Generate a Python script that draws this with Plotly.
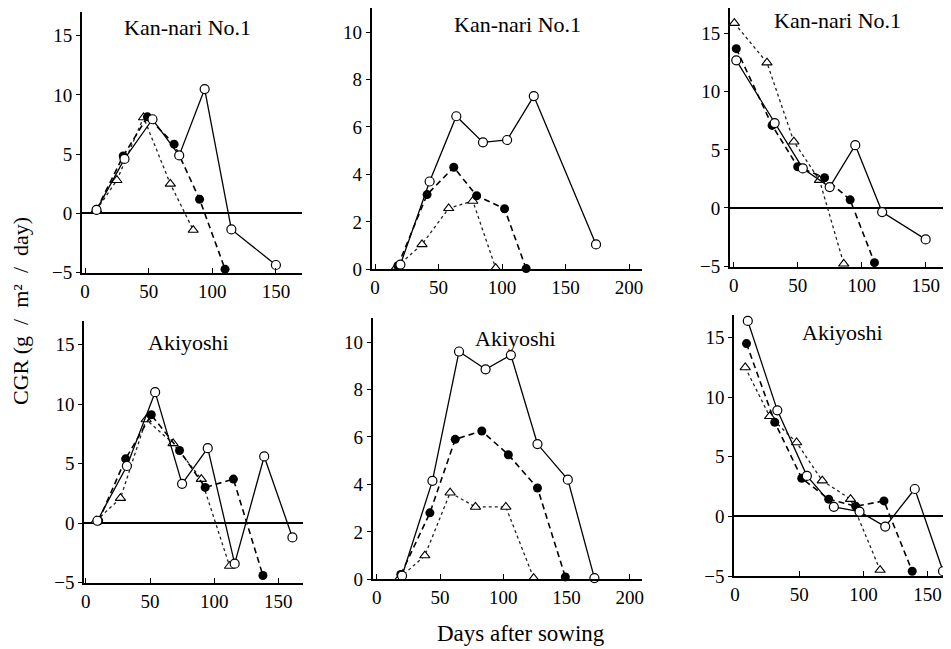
import plotly.graph_objects as go

# The page body adds an 8 px margin, so the figure is sized and positioned
# to land on the same pixels as the reference (951 x 649 window).
OFF = 8
W, H = 951 - OFF, 649 - OFF

# ---------------- data ----------------
# Panel 1: Kan-nari No.1 (left column, CGR g/m2/day)
p1_open_x = [9, 31, 53, 74, 94, 115, 150]
p1_open_y = [0.3, 4.6, 7.95, 4.9, 10.5, -1.35, -4.35]
p1_fill_x = [9, 30, 49, 70, 90, 110]
p1_fill_y = [0.3, 4.85, 8.15, 5.85, 1.2, -4.7]
p1_tri_x = [9, 25, 46, 67, 85]
p1_tri_y = [0.3, 2.8, 8.1, 2.5, -1.4]

# Panel 2: Kan-nari No.1 (middle column)
p2_open_x = [20, 43, 64, 85, 104, 125, 174]
p2_open_y = [0.2, 3.7, 6.45, 5.35, 5.45, 7.3, 1.05]
p2_fill_x = [18, 41, 62, 80, 102, 119]
p2_fill_y = [0.15, 3.15, 4.3, 3.1, 2.55, 0.03]
p2_tri_x = [17, 37, 58, 77, 95]
p2_tri_y = [0.1, 1.05, 2.57, 2.88, 0.05]

# Panel 3: Kan-nari No.1 (right column)
p3_open_x = [2, 32, 54, 75, 95, 116, 150]
p3_open_y = [12.7, 7.3, 3.4, 1.8, 5.4, -0.35, -2.7]
p3_fill_x = [2, 30, 50, 71, 91, 110]
p3_fill_y = [13.7, 7.1, 3.55, 2.6, 0.7, -4.7]
p3_tri_x = [0.5, 26, 47, 67, 86]
p3_tri_y = [15.9, 12.5, 5.7, 2.4, -4.8]

# Panel 4: Akiyoshi (left column)
p4_open_x = [9, 32, 54, 75, 95, 116, 139, 161]
p4_open_y = [0.2, 4.8, 11.0, 3.3, 6.3, -3.4, 5.6, -1.2]
p4_fill_x = [10, 31, 51, 73, 93, 115, 138]
p4_fill_y = [0.2, 5.4, 9.1, 6.1, 3.0, 3.7, -4.4]
p4_tri_x = [8, 27, 47, 68, 90, 112]
p4_tri_y = [0.2, 2.1, 8.7, 6.7, 3.7, -3.6]

# Panel 5: Akiyoshi (middle column)
p5_open_x = [20, 44, 65, 86, 106, 127, 151, 172]
p5_open_y = [0.15, 4.15, 9.6, 8.85, 9.45, 5.7, 4.2, 0.05]
p5_fill_x = [19, 42, 62, 83, 104, 127, 149]
p5_fill_y = [0.2, 2.8, 5.9, 6.25, 5.25, 3.85, 0.1]
p5_tri_x = [18, 38, 58, 78, 102, 124]
p5_tri_y = [0.05, 1.0, 3.65, 3.05, 3.05, 0.05]

# Panel 6: Akiyoshi (right column)
p6_open_x = [10, 33, 56, 77, 97, 117, 140, 162]
p6_open_y = [16.4, 8.9, 3.4, 0.8, 0.4, -0.85, 2.3, -4.6]
p6_fill_x = [9, 31, 52, 73, 94, 116, 138]
p6_fill_y = [14.5, 7.9, 3.2, 1.45, 0.85, 1.3, -4.6]
p6_tri_x = [8, 27, 48, 68, 90, 113]
p6_tri_y = [12.5, 8.4, 6.2, 3.0, 1.45, -4.5]

titles = ["Kan-nari No.1", "Kan-nari No.1", "Kan-nari No.1",
          "Akiyoshi", "Akiyoshi", "Akiyoshi"]
ticks_a_y = [-5, 0, 5, 10, 15]
ticks_a_x = [0, 50, 100, 150]
ticks_b_y = [0, 2, 4, 6, 8, 10]
ticks_b_x = [0, 50, 100, 150, 200]
x_label = "Days after sowing"
y_label = "CGR (g\u2002/\u2002m\u00b2\u2002/\u2002day)"

panels = [
    (p1_open_x, p1_open_y, p1_fill_x, p1_fill_y, p1_tri_x, p1_tri_y),
    (p2_open_x, p2_open_y, p2_fill_x, p2_fill_y, p2_tri_x, p2_tri_y),
    (p3_open_x, p3_open_y, p3_fill_x, p3_fill_y, p3_tri_x, p3_tri_y),
    (p4_open_x, p4_open_y, p4_fill_x, p4_fill_y, p4_tri_x, p4_tri_y),
    (p5_open_x, p5_open_y, p5_fill_x, p5_fill_y, p5_tri_x, p5_tri_y),
    (p6_open_x, p6_open_y, p6_fill_x, p6_fill_y, p6_tri_x, p6_tri_y),
]

# ---------------- layout geometry (window pixels) ----------------
# (left, right, top, bottom) of each plot area, x range, y range, tick set
geom = [
    ((82, 302, 12, 272.7), (-2.4, 170.5), (-5, 17.0), "a"),
    ((371.7, 642, 8.3, 269.3), (-2.6, 210.2), (0, 11.0), "b"),
    ((730, 951, 5, 266.7), (-2.9, 169.8), (-5.05, 17.2), "a"),
    ((84.3, 302.7, 320.7, 582.7), (-1.2, 169), (-5, 17.0), "a"),
    ((372.7, 642, 318.3, 579.3), (-3.2, 209.6), (0, 11.0), "b"),
    ((734.3, 951, 315, 576), (-0.5, 168.2), (-5, 16.9), "a"),
]
title_pos = [(187, 27), (517, 25), (837, 20), (188, 342), (515, 338), (842, 333)]


def fx_(px):
    return (px - OFF) / W


def fy_(py):
    return 1 - (py - OFF) / H


SERIF = "Liberation Serif"
fig = go.Figure()
layout = {}

for i, (pan, g) in enumerate(zip(panels, geom)):
    n = i + 1
    xa = "x" if n == 1 else f"x{n}"
    ya = "y" if n == 1 else f"y{n}"
    ox, oy, fx, fy, tx, ty = pan
    (l, r, t, b), xr, yr, tk = g

    fig.add_trace(go.Scatter(
        x=tx, y=ty, xaxis=xa, yaxis=ya, mode="lines+markers", cliponaxis=False,
        line=dict(color="#222222", width=1.3, dash="dot"),
        marker=dict(symbol="triangle-up", size=9, color="white",
                    line=dict(color="black", width=1.1)),
        showlegend=False))
    fig.add_trace(go.Scatter(
        x=fx, y=fy, xaxis=xa, yaxis=ya, mode="lines+markers", cliponaxis=False,
        line=dict(color="black", width=1.6, dash="6px,4px"),
        marker=dict(symbol="circle", size=9, color="black"),
        showlegend=False))
    fig.add_trace(go.Scatter(
        x=ox, y=oy, xaxis=xa, yaxis=ya, mode="lines+markers", cliponaxis=False,
        line=dict(color="black", width=1.3),
        marker=dict(symbol="circle", size=9, color="white",
                    line=dict(color="black", width=1.2)),
        showlegend=False))

    xk = "xaxis" if n == 1 else f"xaxis{n}"
    yk = "yaxis" if n == 1 else f"yaxis{n}"
    layout[xk] = dict(
        domain=[fx_(l), min(1.0, fx_(r))], anchor=ya, range=list(xr),
        tickvals=ticks_a_x if tk == "a" else ticks_b_x,
        ticks="inside", ticklen=5, tickwidth=1.2, tickcolor="black",
        showline=True, linecolor="black", linewidth=2, mirror=False,
        showgrid=False, zeroline=False, automargin=False,
        tickfont=dict(family=SERIF, size=19, color="black"))
    layout[yk] = dict(
        domain=[fy_(b), min(1.0, fy_(t))], anchor=xa, range=list(yr),
        tickvals=ticks_a_y if tk == "a" else ticks_b_y,
        ticks="outside", ticklen=4, tickwidth=1.2, tickcolor="black",
        showline=True, linecolor="black", linewidth=2, mirror=False,
        showgrid=False, zeroline=(tk == "a"), zerolinecolor="black",
        zerolinewidth=1.6, automargin=False,
        tickfont=dict(family=SERIF, size=19, color="black"))

annotations = []
for (cx, cy), txt in zip(title_pos, titles):
    annotations.append(dict(
        x=fx_(cx), y=fy_(cy), xref="paper", yref="paper", text=txt,
        showarrow=False, xanchor="center", yanchor="middle", borderpad=0,
        font=dict(family=SERIF, size=22, color="black")))
annotations.append(dict(
    x=fx_(521), y=fy_(633), xref="paper", yref="paper", text=x_label,
    showarrow=False, xanchor="center", yanchor="middle", borderpad=0,
    font=dict(family=SERIF, size=23, color="black")))
annotations.append(dict(
    x=fx_(21), y=fy_(311), xref="paper", yref="paper", text=y_label,
    showarrow=False, xanchor="center", yanchor="middle", textangle=-90,
    borderpad=0, font=dict(family=SERIF, size=22, color="black")))

fig.update_layout(
    width=W, height=H, autosize=False,
    margin=dict(l=0, r=0, t=0, b=0, pad=0, autoexpand=False),
    paper_bgcolor="white", plot_bgcolor="white",
    annotations=annotations, **layout)

fig.write_html("out.html")
